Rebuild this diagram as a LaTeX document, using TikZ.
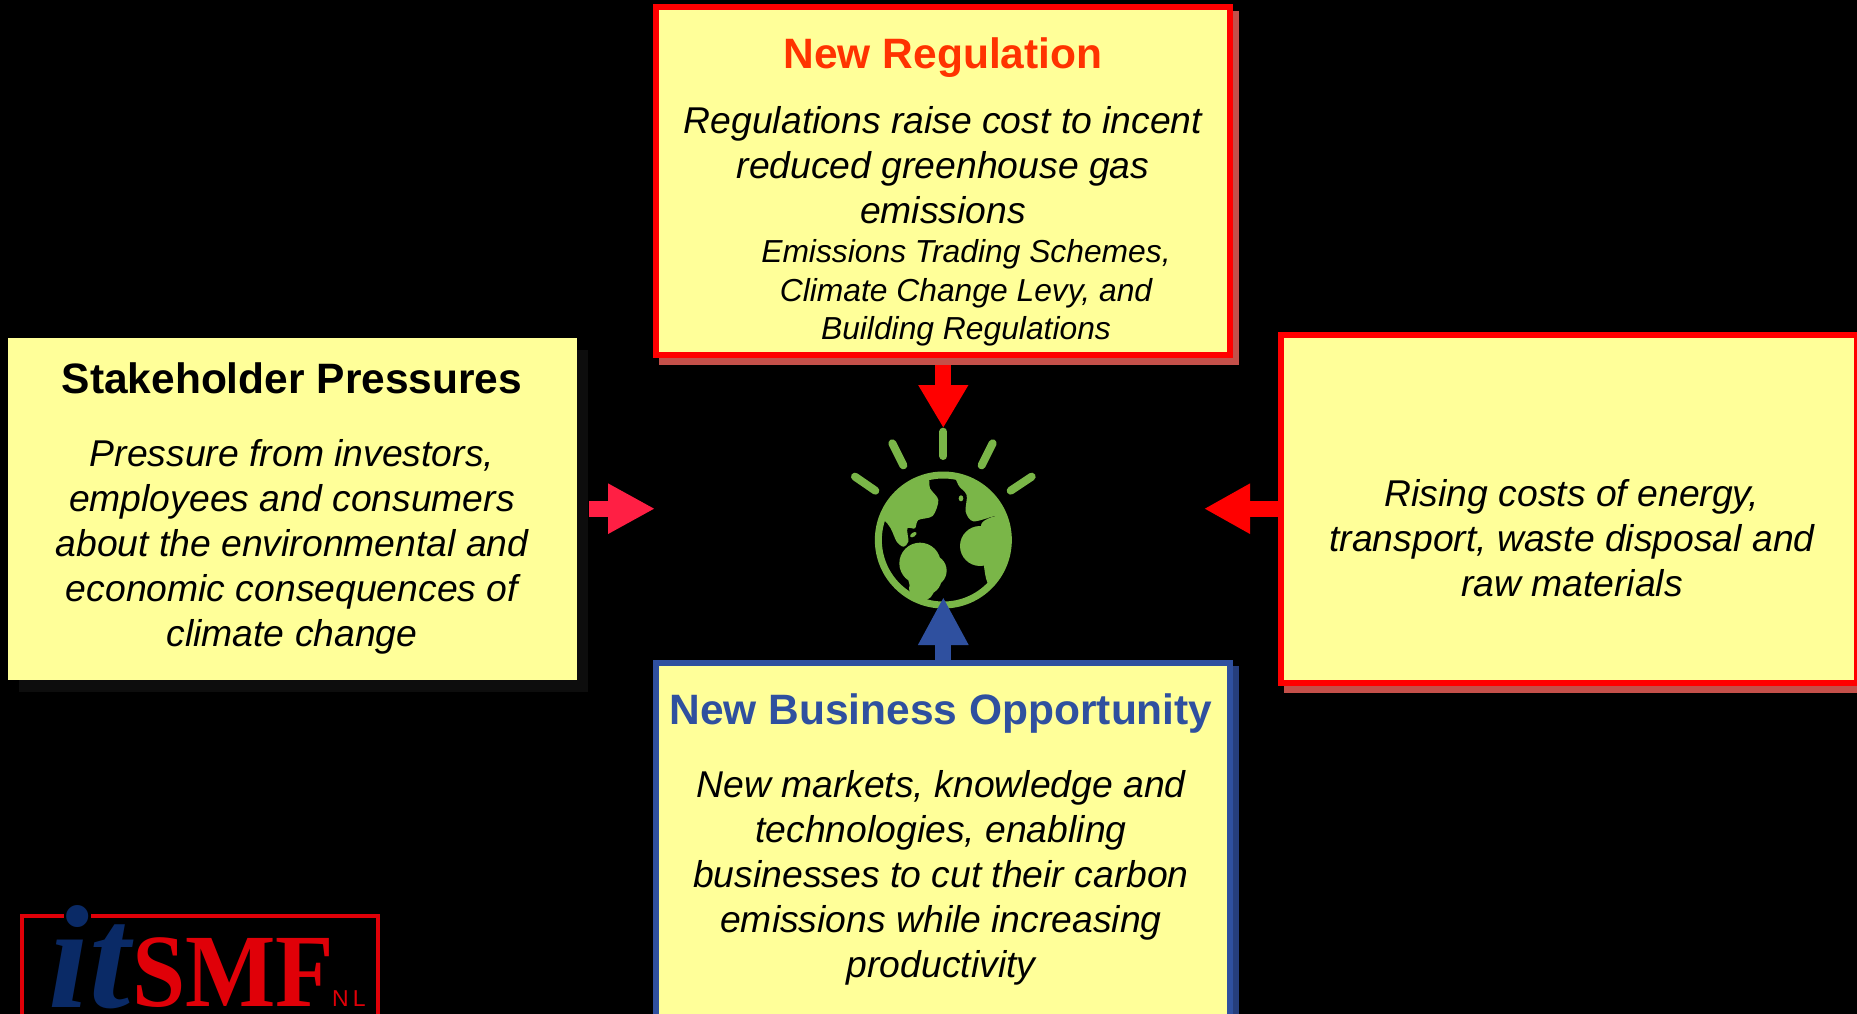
\documentclass[tikz,border=0pt]{standalone}
\usepackage{fontspec}
\setmainfont{Liberation Sans}
\newfontfamily\logoserif{Liberation Serif}
\newfontfamily\logosquat{Liberation Serif}[FakeStretch=0.92]
\usetikzlibrary{arrows.meta,shadows}
\definecolor{paleyellow}{HTML}{FFFF99}
\definecolor{strongred}{HTML}{FF0000}
\definecolor{redshade}{HTML}{C4504A}
\definecolor{titlered}{HTML}{FF3300}
\definecolor{royal}{HTML}{2F509F}
\definecolor{royalshade}{HTML}{263E7C}
\definecolor{leafgreen}{HTML}{7AB648}
\definecolor{hotpink}{HTML}{FF1F44}
\definecolor{logored}{HTML}{E00008}
\definecolor{logonavy}{HTML}{0A2A66}
\definecolor{nearblack}{HTML}{0D0D0D}
\tikzset{
  panel/.style={rectangle,fill=paleyellow,anchor=north west,inner sep=0pt,outer sep=0pt},
  redpanel/.style={panel,draw=strongred,line width=6pt,general shadow={fill=redshade,draw=redshade,shadow xshift=6pt,shadow yshift=-7pt}},
  bluepanel/.style={panel,draw=royal,line width=6pt,general shadow={fill=royalshade,draw=royalshade,shadow xshift=6pt,shadow yshift=-6pt}},
  plainpanel/.style={panel,general shadow={fill=nearblack,shadow xshift=11pt,shadow yshift=-12pt}},
  bodytext/.style={align=center,inner sep=0pt,font=\fontsize{37.3}{45}\selectfont\itshape,text=black},
  subtext/.style={align=center,inner sep=0pt,font=\fontsize{31.8}{38.5}\selectfont\itshape,text=black},
  headtext/.style={align=center,inner sep=0pt,font=\fontsize{42.5}{48}\selectfont\bfseries},
  blockarrow/.style={line width=16pt,-{Triangle[length=#1,width=47pt]}},
  blockarrow/.default=43pt,
  ray/.style={line width=8pt,line cap=round,draw=leafgreen},
}
\begin{document}
\begin{tikzpicture}[x=1pt,y=-1pt]
\useasboundingbox (0,0) rectangle (1857,1014);
\clip (0,0) rectangle (1857,1014);
\fill[black] (0,0) rectangle (1857,1014);

% globe
\node[circle,minimum size=137pt,inner sep=0pt] (globe) at (943.3,540) {};
\begin{scope}[shift={(800,360)},x=0.33333pt,y=-0.33333pt]
  \draw[ray] (430,215) -- (430,288);
  \draw[ray] (277,250) -- (310,316);
  \draw[ray] (578,250) -- (545,316);
  \draw[ray] (165,350) -- (226,392);
  \draw[ray] (695,350) -- (632,392);
  \draw[leafgreen,line width=7pt] (430,540) circle [radius=195];
  \begin{scope}
    \clip (430,540) circle [radius=200];
    \fill[leafgreen] plot[smooth cycle,tension=0.5] coordinates {
      (380,345) (390,385) (415,420) (398,468) (355,480) (345,505) (322,505) (325,545)
      (310,560) (290,545) (272,505) (250,480) (215,480) (230,380) (300,330)};
    \fill[leafgreen] (360,610) circle [radius=62];
    \fill[leafgreen] (392,632) circle [radius=48];
    \fill[leafgreen] (375,655) circle [radius=50];
    \fill[leafgreen] (365,685) circle [radius=38];
    \fill[leafgreen] plot[smooth cycle,tension=0.5] coordinates {
      (478,340) (475,375) (500,405) (497,455) (520,484) (585,468) (640,460) (640,340)};
    \fill[leafgreen] (540,558) circle [radius=60];
    \fill[leafgreen] plot[smooth cycle,tension=0.4] coordinates {
      (545,490) (640,470) (650,640) (575,680) (555,640)};
  \end{scope}
  \fill[black,rotate around={35:(340,524)}] (340,524) ellipse [x radius=12,y radius=6];
  \fill[leafgreen,rotate around={35:(340,524)}] (340,524) ellipse [x radius=11,y radius=6];
  \fill[black] (483,415) ellipse [x radius=11,y radius=13];
  \fill[leafgreen] (483,415) ellipse [x radius=7,y radius=9];
\end{scope}

% connector ends
\coordinate (regtip) at (943.3,428);
\coordinate (opptip) at (943.3,597);
\coordinate (staketip) at (655,508.7);
\coordinate (costtip) at (1204,508.7);
\coordinate (stakestart) at (589,508.7);
\coordinate (regstart) at (943.3,360);

% panels
\draw[blockarrow=43pt,draw=strongred,color=strongred] (regstart) -- (regtip);
\node[redpanel,minimum width=574pt,minimum height=348pt] (regbox) at (656,7) {};
\node[plainpanel,minimum width=569pt,minimum height=342pt] (stakebox) at (8,338) {};
\node[redpanel,minimum width=576pt,minimum height=348pt] (costbox) at (1281,335) {};
\node[bluepanel,minimum width=574pt,minimum height=360pt] (oppbox) at (656,663) {};

\draw[blockarrow=48pt,draw=royal,color=royal] (oppbox.north -| opptip) -- (opptip);
\draw[blockarrow=47pt,draw=hotpink,color=hotpink] (stakestart) -- (staketip);
\draw[blockarrow=46pt,draw=strongred,color=strongred] (costbox.west |- costtip) -- (costtip);

% texts
\node[headtext,text=titlered] (regtitle) at (943,58) {New Regulation};
\node[bodytext] (regbody) at (943,165) {Regulations raise cost to incent\\reduced greenhouse gas\\emissions};
\node[subtext] (regsub) at (966,293) {Emissions Trading Schemes,\\Climate Change Levy, and\\Building Regulations};
\node[headtext,text=black] (staketitle) at (292,378) {Stakeholder Pressures};
\node[bodytext] (stakebody) at (292,547) {Pressure from investors,\\employees and consumers\\about the environmental and\\economic consequences of\\climate change};
\node[bodytext] (costbody) at (1572,538) {Rising costs of energy,\\transport, waste disposal and\\raw materials};
\node[headtext,text=royal] (opptitle) at (941,714) {New Business Opportunity};
\node[bodytext] (oppbody) at (941,878) {New markets, knowledge and\\technologies, enabling\\businesses to cut their carbon\\emissions while increasing\\productivity};

% logo
\draw[logored,line width=4pt] (22,1020) -- (22,916) -- (64,916);
\draw[logored,line width=4pt] (91,916) -- (378,916) -- (378,1020);
\node[anchor=base west,inner sep=0pt,text=logonavy,font=\logoserif\fontsize{147}{147}\selectfont\bfseries\itshape] (logoit) at (48,1007) {it};
\node[anchor=base west,inner sep=0pt,text=logored,font=\logosquat\fontsize{104}{104}\selectfont\bfseries] (logosmf) at (132,1006) {SMF};
\node[anchor=base west,inner sep=0pt,text=logored,font=\fontsize{23}{23}\selectfont] (logonl) at (332,1006) {N\kern4pt L};
\end{tikzpicture}
\end{document}
